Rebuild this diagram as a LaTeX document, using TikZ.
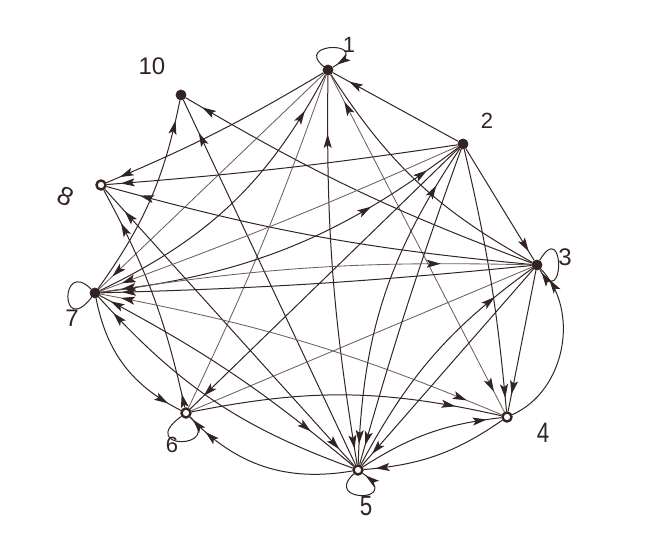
\documentclass[tikz,border=0pt]{standalone}
\usepackage{fontspec}
\setmainfont{Liberation Sans}
\usetikzlibrary{arrows.meta,decorations.markings}
\definecolor{ink}{HTML}{332424}
\definecolor{inkl}{HTML}{6F5F5D}
\tikzset{
  hd/.tip={Stealth[length=14pt,width=8pt,inset=3pt]},
  vx/.style={circle,draw=ink,fill=ink,line width=.8pt,inner sep=0pt,minimum size=10pt},
  vo/.style={circle,draw=ink,fill=white,line width=2.4pt,inner sep=0pt,minimum size=9pt},
  lb/.style={text=ink,inner sep=0pt},
  ed/.style={draw=ink,line width=1pt},
  et/.style={draw=inkl,line width=.85pt},
  ah/.style={postaction={decorate,decoration={markings,mark=at position #1 with {\arrow[ink]{hd}}}}},
  rh/.style={postaction={decorate,decoration={markings,mark=at position #1 with {\arrowreversed[ink]{hd}}}}},
}
\begin{document}
\begin{tikzpicture}[x=1pt,y=1pt]
\useasboundingbox (0,0) rectangle (645,533);
\node[vx] (n1) at (328,463) {};
\node[vx] (n2) at (463,389) {};
\node[vx] (n3) at (537,268) {};
\node[vo] (n4) at (507,116) {};
\node[vo] (n5) at (358,63) {};
\node[vo] (n6) at (186,120) {};
\node[vx] (n7) at (95,240) {};
\node[vo] (n8) at (101,348) {};
\node[vx] (n10) at (181,438) {};
% to 1
\draw[ed,ah=.87] (n2) to (n1);
\draw[ed] (n1) to[bend right=14] (n3);
\draw[ed,ah=.85,rh=.04] (n5) to[bend left=5] (n1);
\draw[et,ah=.92,rh=.06] (n4) to (n1);
\draw[ed,ah=.87] (n7) to[bend right=18] (n1);
\draw[et,rh=.06] (n7) to (n1);
\draw[et] (n6) to[bend right=3] (n1);
% to 10
\draw[ed,ah=.9] (n7) to[bend right=12] (n10);
\draw[ed,ah=.91] (n5) to (n10);
\draw[ed,ah=.95] (n3) to[bend left=5] (n10);
% to 8
\draw[ed,ah=.94] (n1) to[bend left=4] (n8);
\draw[ed,ah=.96] (n2) to[bend left=2] (n8);
\draw[ed,ah=.92] (n3) to[bend left=5] (n8);
\draw[ed,ah=.92,rh=.06] (n5) to (n8);
\draw[ed,ah=.84,ah=.06] (n6) to[bend right=8] (n8);
% to 6
\draw[ed,ah=.9] (n7) to[bend right=26] (n6);
\draw[ed,ah=.95] (n2) to (n6);
\draw[ed,ah=.88] (n5) to[bend left=28] (n6);
\draw[et] (n6) to (n3);
% to 4
\draw[ed,ah=.85] (n6) to[bend left=12] (n4);
\draw[et,ah=.91,rh=.05] (n7) to[bend left=6] (n4);
\draw[ed,ah=.95] (n2) to[bend left=4] (n4);
\draw[ed,ah=.88] (n3) to (n4);
\draw[ed,ah=.9] (n5) to[bend left=13] (n4);
\draw[ed,ah=.92] (n4) to[bend left=15] (n5);
% to 3
\draw[ed,ah=.92] (n2) to (n3);
\draw[ed,ah=.92] (n4) to[bend right=55] (n3);
\draw[ed,ah=.82] (n5) to[bend left=13] (n3);
\draw[ed,ah=.94] (n3) to (n5);
% to 2
\draw[ed,ah=.9,ah=.73] (n7) to[bend right=15] (n2);
\draw[ed,ah=.87,rh=.06] (n5) to[bend left=16] (n2);
\draw[ed,rh=.06] (n5) to[bend left=2] (n2);
% to 7
\draw[ed,ah=.93] (n5) to[bend left=14] (n7);
\draw[et,ah=.94] (n2) to[bend left=2] (n7);
\draw[et,ah=.79,rh=.05] (n7) to[bend left=5] (n3);
\draw[ed,rh=.05] (n7) to[bend right=2] (n3);
\draw[ed,ah=.82,rh=.04] (n7) to[bend left=6] (n5);
% loops
\draw[ed,ah=.93] (n1) .. controls (292,492) and (378,492) .. (n1);
\draw[ed,ah=.95] (n3) .. controls (565,316) and (565,220) .. (n3);
\draw[ed,ah=.95] (n5) .. controls (322,30) and (405,30) .. (n5);
\draw[ed,ah=.95] (n6) .. controls (135,83) and (225,83) .. (n6);
\draw[ed] (n7) .. controls (60,275) and (60,195) .. (n7);
% labels
\node[lb,font=\fontsize{24}{24}\selectfont] (t10) at (152,467) {10};
\node[lb,font=\fontsize{22}{22}\selectfont] (t1) at (349,488) {1};
\node[lb,font=\fontsize{22}{22}\selectfont] (t2) at (487,412) {2};
\node[lb,font=\fontsize{24}{24}\selectfont] (t3) at (565,276) {3};
\node[lb,font=\fontsize{28}{28}\selectfont,xscale=.8] (t4) at (543,100) {4};
\node[lb,font=\fontsize{28}{28}\selectfont,xscale=.8] (t5) at (366,27) {5};
\node[lb,font=\fontsize{22}{22}\selectfont] (t6) at (172,88) {6};
\node[lb,font=\fontsize{24}{24}\selectfont] (t7) at (72,215) {7};
\node[lb,font=\fontsize{26}{26}\selectfont,rotate=-25] (t8) at (66,337) {8};
\end{tikzpicture}
\end{document}
